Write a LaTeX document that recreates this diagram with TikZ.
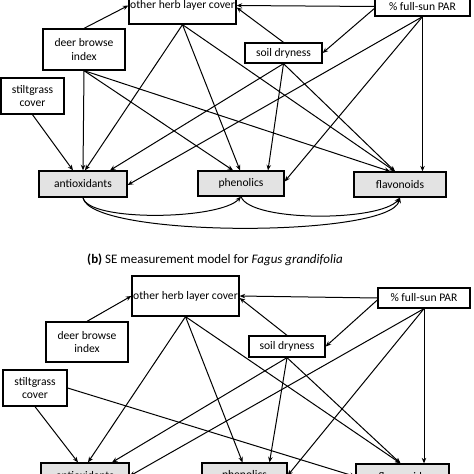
\documentclass[tikz,border=0pt]{standalone}
\usepackage{fontspec}
\setmainfont{Carlito}
\usetikzlibrary{arrows.meta}
\tikzset{
  box/.style={draw, line width=1.3pt, fill=white, inner sep=0pt, align=center,
    font=\fontsize{11.6}{13.5}\selectfont},
  gbox/.style={box, fill=gray!22},
  arr/.style={line width=1pt, -{Stealth[length=5.5pt,width=4.5pt]}},
}
\begin{document}
\begin{tikzpicture}[x=1pt,y=-1pt]
\useasboundingbox (0,0) rectangle (474,474);
\clip (0,0) rectangle (474,474);
% ---------- panel (a) ----------
\node[box, minimum width=107pt, minimum height=37pt] (ohA) at (182.5,5.5) {other herb layer cover};
\node[box, minimum width=95pt, minimum height=19pt] (parA) at (422.5,6.5) {\% full-sun PAR};
\node[box, minimum width=82pt, minimum height=41pt] (deerA) at (84,49.5) {deer browse\\index};
\node[box, minimum width=77pt, minimum height=20pt] (soilA) at (283.5,53) {soil dryness};
\node[box, minimum width=63pt, minimum height=36pt] (stiltA) at (32.5,96) {stiltgrass\\cover};
\node[gbox, minimum width=88pt, minimum height=26pt] (antA) at (83,184) {antioxidants};
\node[gbox, minimum width=86pt, minimum height=25pt] (phA) at (241,183.5) {phenolics};
\node[gbox, minimum width=92pt, minimum height=25pt] (flA) at (400,184.5) {flavonoids};

\draw[arr] (deerA.north) -- (ohA.west);
\draw[arr] (parA.west) -- (ohA.east);
\draw[arr] (soilA.north) -- ([yshift=-2pt]ohA.east);
\draw[arr] ([yshift=-2pt]parA.west) -- (soilA.east);
\draw[arr] (ohA.south) -- ([xshift=2pt]antA.north);
\draw[arr] (ohA.south) -- ([xshift=-1pt]phA.north);
\draw[arr] (ohA.south) -- ([xshift=-5pt]flA.north);
\draw[arr] (deerA.south) -- (antA.north);
\draw[arr] (deerA.south) -- ([xshift=-8pt]phA.north);
\draw[arr] (deerA.south) -- ([xshift=-10pt]flA.north);
\draw[arr] (stiltA.south) -- ([xshift=-10pt]antA.north);
\draw[arr] (soilA.south) -- ([xshift=27pt]antA.north);
\draw[arr] (soilA.south) -- ([xshift=27pt]phA.north);
\draw[arr] (soilA.south) -- ([xshift=-5pt]flA.north);
\draw[arr] (parA.south) -- ([yshift=-1pt]antA.east);
\draw[arr] (parA.south) -- ([yshift=2pt]phA.east);
\draw[arr] (parA.south) -- ([xshift=22.5pt]flA.north);

\draw[arr] (antA.south) .. controls (88,222) and (220,220) .. (phA.south);
\draw[arr] (antA.south) .. controls (90,238) and (390,238) .. (flA.south);
\draw[arr] (phA.south) .. controls (250,222) and (380,222) .. (flA.south);

% ---------- title ----------
\node[font=\fontsize{13}{15}\selectfont] (title) at (215,260)
  {\textbf{(b)} SE measurement model for \textit{Fagus grandifolia}};

% ---------- panel (b) ----------
\node[box, minimum width=107pt, minimum height=40pt] (ohB) at (185.5,296) {other herb layer cover};
\node[box, minimum width=92pt, minimum height=20pt] (parB) at (424,298) {\% full-sun PAR};
\node[box, minimum width=82pt, minimum height=40pt] (deerB) at (87,342) {deer browse\\index};
\node[box, minimum width=76pt, minimum height=21pt] (soilB) at (287,346.5) {soil dryness};
\node[box, minimum width=64pt, minimum height=36pt] (stiltB) at (35,388) {stiltgrass\\cover};
\node[gbox, minimum width=88pt, minimum height=26pt] (antB) at (85,476) {antioxidants};
\node[gbox, minimum width=85pt, minimum height=25pt] (phB) at (244.5,475.5) {phenolics};
\node[gbox, minimum width=93pt, minimum height=25pt] (flB) at (402.5,476.5) {flavonoids};

\draw[arr] (deerB.north) -- (ohB.west);
\draw[arr] (parB.west) -- (ohB.east);
\draw[arr] (soilB.north) -- ([yshift=-2pt]ohB.east);
\draw[arr] ([yshift=-2pt]parB.west) -- (soilB.east);
\draw[arr] (ohB.south) -- ([xshift=3pt]antB.north);
\draw[arr] (ohB.south) -- ([xshift=-2pt]phB.north);
\draw[arr] (ohB.south) -- ([xshift=-2pt]flB.north);
\draw[arr] (stiltB.south) -- ([xshift=-7pt]antB.north);
\draw[arr] (stiltB.east) -- (flB.west);
\draw[arr] (soilB.south) -- ([xshift=27pt]antB.north);
\draw[arr] (soilB.south) -- ([xshift=25pt]phB.north);
\draw[arr] (soilB.south) -- ([xshift=-2pt]flB.north);
\draw[arr] (parB.south) -- (antB.east);
\draw[arr] (parB.south) -- (phB.east);
\draw[arr] (parB.south) -- ([xshift=21.5pt]flB.north);
\end{tikzpicture}
\end{document}
